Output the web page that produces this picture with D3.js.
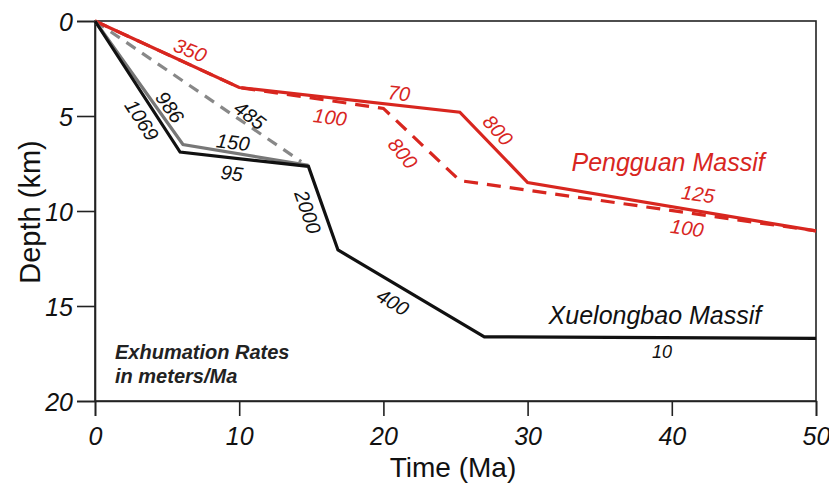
<!DOCTYPE html>
<html>
<head>
<meta charset="utf-8">
<script src="https://cdn.jsdelivr.net/npm/d3@7"></script>
<style>
  body { margin: 0; background: #fff; }
  svg { display: block; font-family: 'Liberation Sans', Arial, sans-serif; }
</style>
</head>
<body>
<svg id="chart" width="829" height="484"></svg>
<script>
// depth/time paths (time in Ma, depth in km)
var penguanSolid = [[0, 0], [10, 3.5], [25.3, 4.8], [30, 8.5], [50, 11.05]];
var penguanDashed = [[0, 0], [10, 3.5], [20, 4.6], [25.3, 8.4], [50, 11.05]];
var xueBlack = [[0, 0], [5.9, 6.9], [14.8, 7.65], [16.85, 12.05], [27, 16.62], [50, 16.7]];
var xueGray = [[0, 0], [6.1, 6.5], [14.8, 7.6]];
var xueGrayDashed = [[0, 0], [14.3, 7.4]];

var xTicks = [0, 10, 20, 30, 40, 50];
var yTicks = [0, 5, 10, 15, 20];

// rate labels: text, time, depth (centre), angle, colour
var rateLabels = [
  ['350', 6.6, 1.53, 22, 'red'],
  ['70', 21.08, 3.79, 6, 'red'],
  ['100', 16.3, 5.05, 7, 'red'],
  ['800', 21.36, 6.95, 50, 'red'],
  ['800', 27.95, 5.74, 48, 'red'],
  ['125', 41.82, 9.1, 8, 'red'],
  ['100', 41.05, 10.89, 8, 'red'],
  ['1069', 3.26, 5.21, 57, 'black'],
  ['986', 5.2, 4.53, 55, 'black'],
  ['485', 10.75, 4.95, 37, 'black'],
  ['150', 9.57, 6.37, 7, 'black'],
  ['95', 9.5, 8.0, 7, 'black'],
  ['2000', 14.77, 10.05, 71, 'black'],
  ['400', 20.67, 14.79, 31, 'black'],
  ['10', 39.32, 17.42, 0, 'black']
];

var RED = '#d8261f';

var svg = d3.select('#chart');
var x = d3.scaleLinear().domain([0, 50]).range([95, 816]);
var y = d3.scaleLinear().domain([0, 20]).range([21, 401]);

// frame
svg.append('rect').attr('x', x(0)).attr('y', y(0))
  .attr('width', x(50) - x(0)).attr('height', y(20) - y(0))
  .attr('fill', 'none').attr('stroke', '#222').attr('stroke-width', 1.6);

// axes
var xAxis = svg.append('g').attr('transform', 'translate(0,' + y(20) + ')')
  .call(d3.axisBottom(x).tickValues(xTicks).tickSize(15).tickPadding(10).tickFormat(d3.format('d')));
var yAxis = svg.append('g').attr('transform', 'translate(' + x(0) + ',0)')
  .call(d3.axisLeft(y).tickValues(yTicks).tickSize(18).tickPadding(4).tickFormat(d3.format('d')));

[xAxis, yAxis].forEach(function(ax) {
  ax.select('.domain').attr('stroke', '#222').attr('stroke-width', 1.6);
  ax.selectAll('.tick line').attr('stroke', '#222').attr('stroke-width', 1.6);
  ax.selectAll('.tick text').attr('fill', '#111').style('font-size', '25px').style('font-style', 'italic')
    .style('font-family', "'Liberation Sans', Arial, sans-serif");
});
xAxis.selectAll('.tick text').attr('dy', '0.75em');
yAxis.selectAll('.tick text').attr('dy', '0.36em');

svg.append('text').attr('x', 453).attr('y', 477).attr('text-anchor', 'middle')
  .style('font-size', '28px').attr('fill', '#111').text('Time (Ma)');
svg.append('text').attr('transform', 'translate(40,212) rotate(-90)').attr('text-anchor', 'middle')
  .style('font-size', '29px').attr('fill', '#111').text('Depth (km)');

var line = d3.line().x(function(d) { return x(d[0]); }).y(function(d) { return y(d[1]); });

function path(data, color, dash) {
  var p = svg.append('path').datum(data).attr('d', line)
    .attr('fill', 'none').attr('stroke', color).attr('stroke-width', 3.2)
    .attr('stroke-linejoin', 'miter');
  if (dash) p.attr('stroke-dasharray', dash);
  return p;
}

path(xueGrayDashed, '#888', '11,8');
path(penguanDashed, RED, '14,9');
path(penguanSolid, RED);
path(xueGray, '#777');
path(xueBlack, '#111');

svg.selectAll('.rate').data(rateLabels).enter().append('text')
  .attr('class', 'rate')
  .attr('transform', function(d) { return 'translate(' + x(d[1]) + ',' + y(d[2]) + ') rotate(' + d[3] + ')'; })
  .attr('text-anchor', 'middle').attr('dy', '0.36em')
  .style('font-size', function(d) { return d[0] == '10' ? '18px' : '20px'; })
  .style('font-style', 'italic')
  .attr('fill', function(d) { return d[4] == 'red' ? RED : '#111'; })
  .text(function(d) { return d[0]; });

svg.append('text').attr('x', x(39.74)).attr('y', y(7.42)).attr('dy', '0.36em')
  .attr('text-anchor', 'middle').style('font-size', '25px').style('font-style', 'italic')
  .attr('fill', RED).text('Pengguan Massif');
svg.append('text').attr('x', x(38.83)).attr('y', y(15.47)).attr('dy', '0.36em')
  .attr('text-anchor', 'middle').style('font-size', '25px').style('font-style', 'italic')
  .attr('fill', '#111').text('Xuelongbao Massif');

var note = svg.append('text').style('font-size', '20px').style('font-style', 'italic')
  .style('font-weight', 'bold').attr('fill', '#222');
note.append('tspan').attr('x', 115).attr('y', 359).text('Exhumation Rates');
note.append('tspan').attr('x', 115).attr('y', 383).text('in meters/Ma');
</script>
</body>
</html>
